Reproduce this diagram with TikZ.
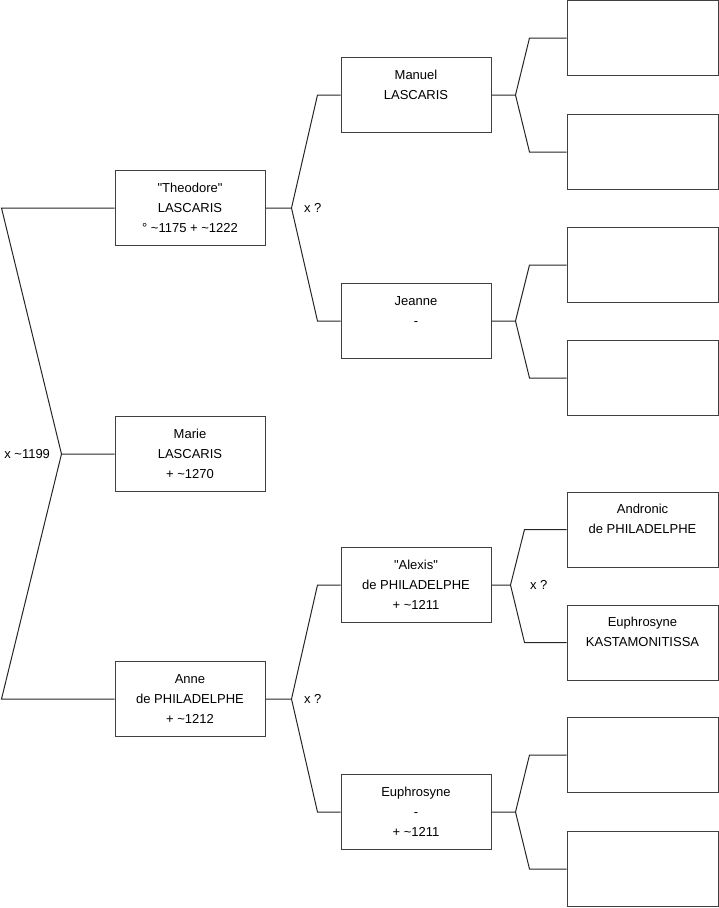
\documentclass[tikz,border=0pt]{standalone}
\usepackage{fontspec}
\setmainfont{Liberation Sans}
\usetikzlibrary{positioning}
\tikzset{
  x=1pt, y=-1pt, % one unit is one pixel of the tree, y runs down
  every node/.style={font=\fontsize{13}{20}\selectfont},
  person/.style={draw=black!75, line width=1pt, minimum width=150pt,
    minimum height=75pt, align=center, inner sep=2pt}, % a person box
  blank/.style={person, minimum width=151pt}, % box with nobody in it
  link/.style={line width=1pt, black!85}, % the forks between boxes
}

\begin{document}
\begin{tikzpicture}
  \useasboundingbox (0,0) rectangle (719,908);

  % first generation
  \node[person] (theodore) at (190,208) {\textquotedbl Theodore\textquotedbl\\LASCARIS\\° \textasciitilde1175 + \textasciitilde1222};
  \node[person] (marie) at (190,454) {Marie\\LASCARIS\\+ \textasciitilde1270};
  \node[person] (anne) at (190,699) {Anne\\de PHILADELPHE\\+ \textasciitilde1212};

  % second generation
  \node[person] (manuel) at (416,95) {\strut Manuel\\LASCARIS\\\strut};
  \node[person] (jeanne) at (416,321) {\strut Jeanne\\-\\\strut};
  \node[person] (alexis) at (416,585) {\textquotedbl Alexis\textquotedbl\\de PHILADELPHE\\+ \textasciitilde1211};
  \node[person] (euphrosyne) at (416,812) {Euphrosyne\\-\\+ \textasciitilde1211};

  % third generation
  \node[blank] (m1) at (642.5,38) {};
  \node[blank] (m2) at (642.5,152) {};
  \node[blank] (j1) at (642.5,265) {};
  \node[blank] (j2) at (642.5,378) {};
  \node[blank] (andronic) at (642.5,529.5) {\strut Andronic\\de PHILADELPHE\\\strut};
  \node[blank] (kastamonitissa) at (642.5,642.5) {\strut Euphrosyne\\KASTAMONITISSA\\\strut};
  \node[blank] (e1) at (642.5,755) {};
  \node[blank] (e2) at (642.5,869) {};

  % forks
  \draw[link] (marie.west) -- ++(-53,0) coordinate (fm)
    (fm) -- ([xshift=-113pt]theodore.west) -- (theodore.west)
    (fm) -- ([xshift=-113pt]anne.west) -- (anne.west);
  \draw[link] (theodore.east) -- ++(26,0) coordinate (ft)
    (ft) -- ([xshift=-23pt]manuel.west) -- (manuel.west)
    (ft) -- ([xshift=-23pt]jeanne.west) -- (jeanne.west);
  \draw[link] (anne.east) -- ++(26,0) coordinate (fa)
    (fa) -- ([xshift=-23pt]alexis.west) -- (alexis.west)
    (fa) -- ([xshift=-23pt]euphrosyne.west) -- (euphrosyne.west);
  \draw[link] (manuel.east) -- ++(24,0) coordinate (fma)
    (fma) -- ([xshift=-37pt]m1.west) -- (m1.west)
    (fma) -- ([xshift=-37pt]m2.west) -- (m2.west);
  \draw[link] (jeanne.east) -- ++(24,0) coordinate (fj)
    (fj) -- ([xshift=-37pt]j1.west) -- (j1.west)
    (fj) -- ([xshift=-37pt]j2.west) -- (j2.west);
  \draw[link] (alexis.east) -- ++(19,0) coordinate (fal)
    (fal) -- ([xshift=-42pt]andronic.west) -- (andronic.west)
    (fal) -- ([xshift=-42pt]kastamonitissa.west) -- (kastamonitissa.west);
  \draw[link] (euphrosyne.east) -- ++(24,0) coordinate (fe)
    (fe) -- ([xshift=-37pt]e1.west) -- (e1.west)
    (fe) -- ([xshift=-37pt]e2.west) -- (e2.west);

  % marriages
  \node[left=8pt] (wed1) at (fm) {x \textasciitilde1199};
  \node[right=9pt] (wed2) at (ft) {x ?};
  \node[right=9pt] (wed3) at (fa) {x ?};
  \node[right=16pt] (wed4) at (fal) {x ?};
\end{tikzpicture}
\end{document}
